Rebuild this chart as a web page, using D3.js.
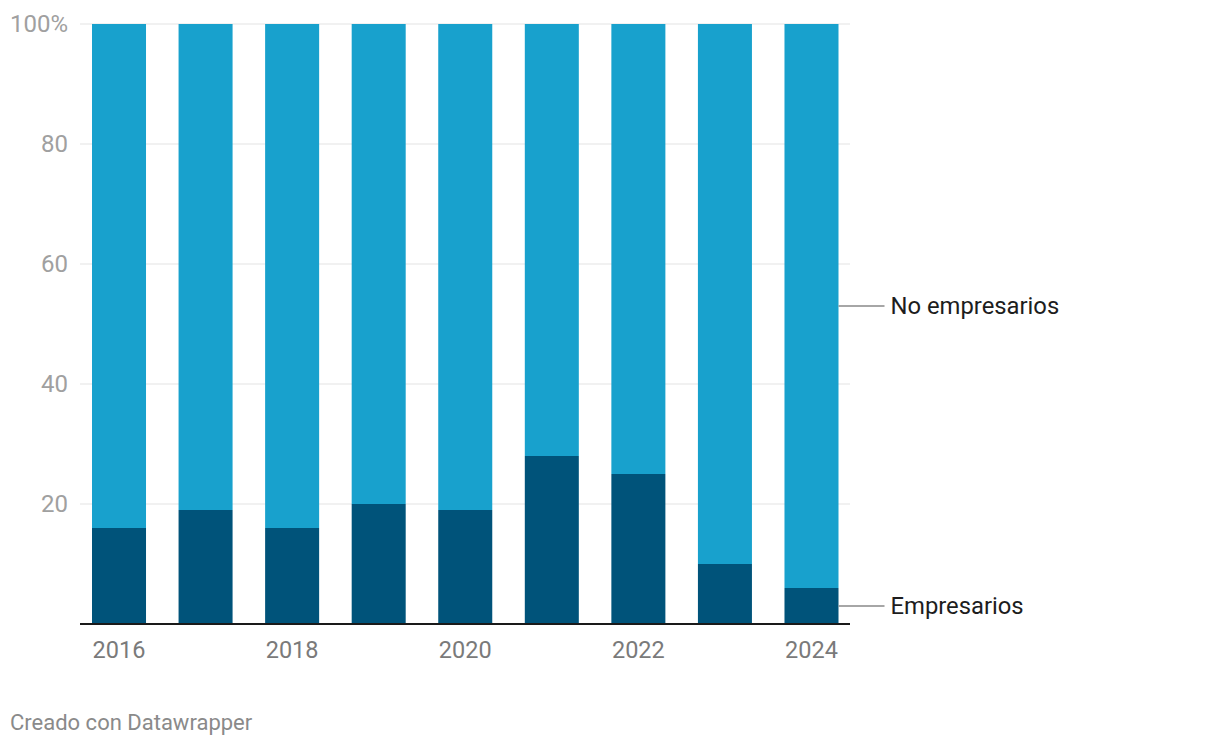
<!DOCTYPE html>
<html><head><meta charset="utf-8">
<script src="https://cdn.jsdelivr.net/npm/d3@7"></script>
<style>
body{margin:0;background:#fff;font-family:Roboto,sans-serif;}
</style></head><body>
<svg id="c" width="1220" height="746"></svg>
<script>
const years = [2016,2017,2018,2019,2020,2021,2022,2023,2024];
const empresarios = [16,19,16,20,19,28,25,10,6];
const noEmpresarios = [84,81,84,80,81,72,75,90,94];
const yTicks = [0,20,40,60,80,100];
const xTickLabels = [2016,2018,2020,2022,2024];
const seriesNames = ["Empresarios","No empresarios"];
const colors = ["#00537a","#18a1cd"];

const svg = d3.select("#c");
const x = d3.scaleBand().domain(years).range([92,838.5]).paddingInner(0.376).paddingOuter(0);
const y = d3.scaleLinear().domain([0,100]).range([624,24]);

// grid
svg.append("g").selectAll("line").data(yTicks.filter(d=>d>0)).join("line")
  .attr("x1",80).attr("x2",850).attr("y1",d=>y(d)).attr("y2",d=>y(d))
  .attr("stroke","#e3e3e3").attr("stroke-width",1);

// y labels
svg.append("g").selectAll("text").data(yTicks.filter(d=>d>0)).join("text")
  .attr("x",68).attr("y",d=>y(d)).attr("dy","0.35em").attr("text-anchor","end")
  .attr("font-size",24).attr("fill","#a0a0a0")
  .text(d=>d===100?"100%":d);

const rows = years.map((yr,i)=>({year:yr, Empresarios:empresarios[i], "No empresarios":noEmpresarios[i]}));
const stack = d3.stack().keys(seriesNames)(rows);
svg.append("g").selectAll("g").data(stack).join("g").attr("fill",(d,i)=>colors[i])
  .selectAll("rect").data(d=>d).join("rect")
  .attr("x",d=>x(d.data.year)).attr("width",x.bandwidth())
  .attr("y",d=>y(d[1])).attr("height",d=>y(d[0])-y(d[1]));

// baseline
svg.append("line").attr("x1",80).attr("x2",850).attr("y1",y(0)).attr("y2",y(0))
  .attr("stroke","#1a1a1a").attr("stroke-width",2);

// x labels
svg.append("g").selectAll("text").data(xTickLabels).join("text")
  .attr("x",d=>x(d)+x.bandwidth()/2).attr("y",658).attr("text-anchor","middle")
  .attr("font-size",23.5).attr("fill","#7a7a7a").text(d=>d);

// series labels
const last = stack.map(s=>s[s.length-1]);
const lx = x(years[years.length-1])+x.bandwidth();
last.forEach((d,i)=>{
  const ym = y((d[0]+d[1])/2);
  svg.append("line").attr("x1",lx).attr("x2",lx+46).attr("y1",ym).attr("y2",ym)
    .attr("stroke","#888").attr("stroke-width",1.3);
  svg.append("text").attr("x",lx+52).attr("y",ym).attr("dy","0.35em")
    .attr("font-size",23.8).attr("fill","#1d1d1d").text(seriesNames[i]);
});

svg.append("text").attr("x",10).attr("y",722).attr("dy","0.35em")
  .attr("font-size",22).attr("fill","#8a8a8a").text("Creado con Datawrapper");
</script>
</body></html>
